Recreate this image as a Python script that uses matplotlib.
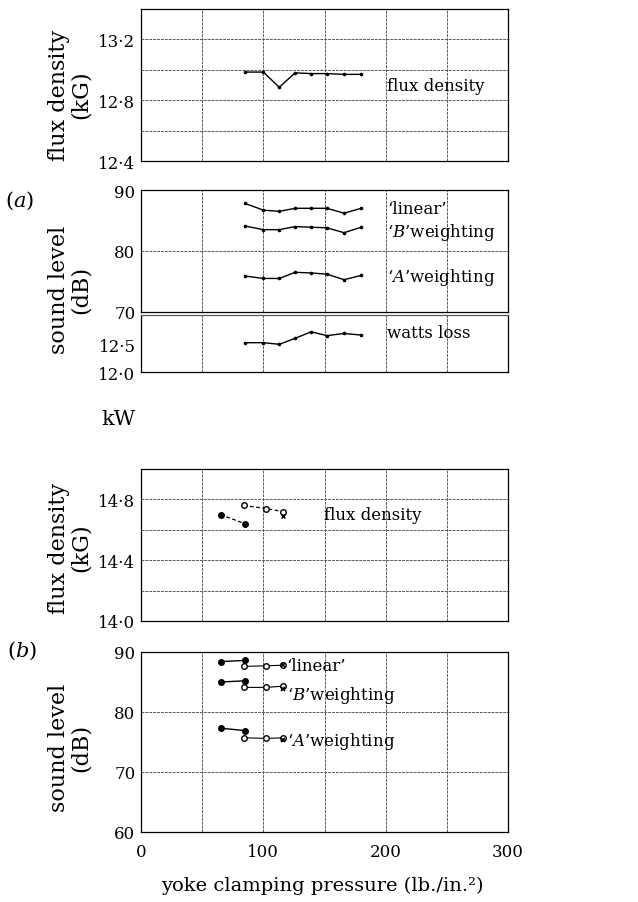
import matplotlib
matplotlib.use("Agg")
import matplotlib.pyplot as plt

plt.rcParams['font.family'] = ['DejaVu Serif']
plt.rcParams['mathtext.fontset'] = 'dejavuserif'

# (a) clamping pressure points, lb./in.^2
press_a = [85, 100, 113, 126, 139, 152, 166, 180]
flux_a = [12.985, 12.985, 12.885, 12.98, 12.975, 12.975, 12.97, 12.97]
linear_a = [87.8, 86.7, 86.5, 87.0, 87.0, 87.0, 86.2, 87.0]
bweight_a = [84.1, 83.5, 83.5, 84.0, 83.9, 83.8, 83.0, 83.9]
aweight_a = [75.9, 75.5, 75.5, 76.5, 76.4, 76.2, 75.3, 76.0]
watts_a = [12.54, 12.54, 12.51, 12.62, 12.74, 12.67, 12.71, 12.68]

# (b) before (filled) and after (open) re-clamping
press_b1 = [65, 85]
press_b2 = [84, 102, 116]
flux_b1 = [14.70, 14.64]
flux_b2 = [14.76, 14.74, 14.72]
flux_b_cross = 14.69
linear_b1 = [88.4, 88.6]
linear_b2 = [87.6, 87.7, 87.8]
linear_b_cross = 87.8
bweight_b1 = [85.0, 85.2]
bweight_b2 = [84.1, 84.1, 84.3]
bweight_b_cross = 83.9
aweight_b1 = [77.3, 76.9]
aweight_b2 = [75.7, 75.6, 75.7]
aweight_b_cross = 75.4

W, H = 638, 903
fig = plt.figure(figsize=(W / 100, H / 100), dpi=100)


def box(top, bottom, left=141, right=508):
    return [left / W, 1 - bottom / H, (right - left) / W, (bottom - top) / H]


def setup(ax, ylim, yticks, ylabels, xlabels=False):
    ax.set_xlim(0, 300)
    ax.set_ylim(*ylim)
    ax.set_xticks([0, 50, 100, 150, 200, 250, 300])
    ax.set_yticks(yticks)
    ax.set_yticklabels(ylabels)
    if xlabels:
        ax.set_xticklabels(['0', '', '100', '', '200', '', '300'])
    else:
        ax.set_xticklabels([])
    ax.tick_params(length=0, labelsize=12, pad=4)
    ax.tick_params(axis='x', pad=8)
    ax.grid(True, color='0.35', linewidth=0.7, linestyle=(0, (3, 1)))
    for s in ax.spines.values():
        s.set_linewidth(0.9)


line_kw = dict(color='black', linewidth=1.0, marker='o', markersize=1.6)

# (a) flux density
ax1 = fig.add_axes(box(10, 162))
setup(ax1, (12.4, 13.4), [12.4, 12.6, 12.8, 13.0, 13.2],
      ['12·4', '', '12·8', '', '13·2'])
ax1.plot(press_a, flux_a, **line_kw)
ax1.text(201, 12.9, 'flux density', fontsize=12, va='center')

# (a) sound level
ax2 = fig.add_axes(box(191, 313))
setup(ax2, (70, 90), [70, 80, 90], ['70', '80', '90'])
ax2.plot(press_a, linear_a, **line_kw)
ax2.plot(press_a, bweight_a, **line_kw)
ax2.plot(press_a, aweight_a, **line_kw)
ax2.text(201, 87.0, '‘linear’', fontsize=12, va='center')
ax2.text(201, 83.2, '‘$B$’weighting', fontsize=12, va='center')
ax2.text(201, 75.8, '‘$A$’weighting', fontsize=12, va='center')

# (a) watts loss
ax3 = fig.add_axes(box(316, 373))
setup(ax3, (12.0, 13.05), [12.0, 12.5], ['12·0', '12·5'])
ax3.grid(False, axis='y')
ax3.spines['top'].set_linestyle((0, (3, 1)))
ax3.spines['top'].set_color('0.35')
ax3.plot(press_a, watts_a, **line_kw)
ax3.text(201, 12.72, 'watts loss', fontsize=12, va='center')

# (b) flux density
ax4 = fig.add_axes(box(470, 622))
setup(ax4, (14.0, 15.0), [14.0, 14.2, 14.4, 14.6, 14.8],
      ['14·0', '', '14·4', '', '14·8'])
ax4.plot(press_b1, flux_b1, color='black', linewidth=0.9, linestyle=(0, (3, 2)),
         marker='o', markersize=4)
ax4.plot(press_b2, flux_b2, color='black', linewidth=0.9, linestyle=(0, (3, 2)),
         marker='o', markersize=4, markerfacecolor='white')
ax4.plot(press_b2[-1], flux_b_cross, marker='x', color='black', markersize=3.5)
ax4.text(150, 14.70, 'flux density', fontsize=12, va='center')

# (b) sound level
ax5 = fig.add_axes(box(653, 833))
setup(ax5, (60, 90), [60, 70, 80, 90], ['60', '70', '80', '90'], xlabels=True)
for y1, y2, yc in [(linear_b1, linear_b2, linear_b_cross),
                   (bweight_b1, bweight_b2, bweight_b_cross),
                   (aweight_b1, aweight_b2, aweight_b_cross)]:
    ax5.plot(press_b1, y1, color='black', linewidth=1.0, marker='o', markersize=4)
    ax5.plot(press_b2, y2, color='black', linewidth=0.8, marker='o', markersize=4,
             markerfacecolor='white')
    ax5.plot(press_b2[-1], yc, marker='x', color='black', markersize=3.5,
             markeredgewidth=1.2)
ax5.text(119, 87.7, '‘linear’', fontsize=12, va='center')
ax5.text(119, 83.0, '‘$B$’weighting', fontsize=12, va='center')
ax5.text(119, 75.3, '‘$A$’weighting', fontsize=12, va='center')

# y-axis titles and panel letters
for yc, txt in [(95, 'flux density\n(kG)'), (290, 'sound level\n(dB)'),
                (548, 'flux density\n(kG)'), (748, 'sound level\n(dB)')]:
    fig.text(70 / W, 1 - yc / H, txt, rotation=90, ha='center', va='center',
             fontsize=16, multialignment='center', linespacing=1.0)
fig.text(20 / W, 1 - 201 / H, '($a$)', fontsize=15, ha='center', va='center')
fig.text(22 / W, 1 - 651 / H, '($b$)', fontsize=15, ha='center', va='center')
fig.text(118 / W, 1 - 420 / H, 'kW', fontsize=15, ha='center', va='center')
fig.text(322 / W, 1 - 886 / H, 'yoke clamping pressure (lb./in.²)',
         fontsize=14, ha='center', va='center')

fig.savefig('out.png', dpi=100)
